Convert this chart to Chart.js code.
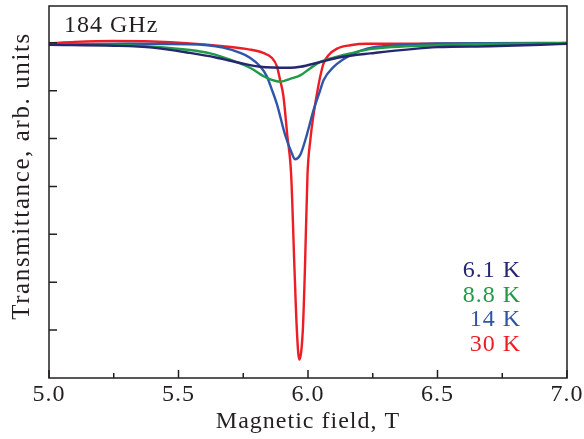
<!DOCTYPE html>
<html>
<head>
<meta charset="utf-8">
<script src="https://cdn.jsdelivr.net/npm/chart.js@4/dist/chart.umd.min.js"></script>
<style>
  html, body { margin: 0; padding: 0; background: #ffffff; }
  #c { display: block; }
</style>
</head>
<body>
<canvas id="c" width="584" height="439"></canvas>
<script>
// Axis ticks
const fieldTicks = [5.0, 5.5, 6.0, 6.5, 7.0];
const fieldMinorTicks = [5.25, 5.75, 6.25, 6.75];
const transTicks = [1, 2, 3, 4, 5, 6, 7];

// Series: temperature labels and colours
const seriesLabels = ['6.1 K', '8.8 K', '14 K', '30 K'];
const seriesColors = ['#26276f', '#1f9a48', '#2f55a8', '#ee1d25'];

// 6.1 K
const field61 = [5.00, 5.25, 5.40, 5.544, 5.648, 5.738, 5.815, 5.931, 5.970, 6.047, 6.124, 6.24, 6.50, 6.70, 6.90, 7.00];
const trans61 = [6.96, 6.94, 6.90, 6.79, 6.69, 6.58, 6.50, 6.48, 6.50, 6.60, 6.70, 6.78, 6.91, 6.93, 6.96, 6.98];

// 8.8 K
const field88 = [5.00, 5.25, 5.40, 5.544, 5.622, 5.699, 5.776, 5.841, 5.895, 5.931, 5.970, 6.009, 6.047, 6.105, 6.163, 6.24, 6.50, 7.00];
const trans88 = [6.97, 6.96, 6.92, 6.85, 6.78, 6.65, 6.48, 6.27, 6.19, 6.25, 6.32, 6.47, 6.60, 6.70, 6.78, 6.87, 6.95, 7.00];

// 14 K
const field14 = [5.00, 5.30, 5.544, 5.672, 5.738, 5.776, 5.815, 5.841, 5.860, 5.880, 5.912, 5.938, 5.949, 5.970, 5.996, 6.021, 6.047, 6.060, 6.099, 6.163, 6.228, 6.357, 6.50, 7.00];
const trans14 = [6.96, 6.98, 6.97, 6.90, 6.79, 6.69, 6.51, 6.30, 6.03, 5.72, 5.07, 4.69, 4.57, 4.66, 5.09, 5.59, 6.01, 6.22, 6.50, 6.74, 6.88, 6.95, 6.99, 7.00];

// 30 K
const field30 = [5.00, 5.10, 5.25, 5.40, 5.544, 5.672, 5.776, 5.827, 5.860, 5.880, 5.892, 5.905, 5.920, 5.935, 5.948, 5.957, 5.966, 5.980, 5.988, 5.998, 6.009, 6.024, 6.037, 6.047, 6.060, 6.079, 6.112, 6.163, 6.228, 6.50, 7.00];
const trans30 = [6.99, 7.02, 7.04, 7.03, 6.99, 6.93, 6.86, 6.79, 6.69, 6.51, 6.23, 5.89, 5.07, 4.24, 2.25, 1.00, 0.385, 1.00, 2.25, 4.24, 4.97, 5.59, 6.01, 6.29, 6.57, 6.74, 6.88, 6.95, 6.98, 6.98, 6.98];

const fieldSets = [field61, field88, field14, field30];
const transSets = [trans61, trans88, trans14, trans30];

const INK = '#231f20';
const SERIF = "'Liberation Serif', 'Times New Roman', serif";
const FONT_SIZE = 24;
const LETTER_SPACING = '1px';
const Y_TITLE = 'Transmittance, arb. units';

const datasets = seriesLabels.map((label, i) => ({
  label,
  data: fieldSets[i].map((x, j) => ({ x, y: transSets[i][j] })),
  borderColor: seriesColors[i],
  backgroundColor: seriesColors[i],
  borderWidth: 2.4,
  pointRadius: 0,
  fill: false,
  cubicInterpolationMode: 'monotone'
}));

// Frame, inward ticks, axis title, frequency tag and temperature labels
const decorPlugin = {
  id: 'decor',
  beforeDraw(chart) {
    chart.ctx.letterSpacing = LETTER_SPACING;
  },
  afterDatasetsDraw(chart) {
    const { ctx, chartArea: a, scales: { x, y } } = chart;
    ctx.save();
    ctx.strokeStyle = INK;
    ctx.lineWidth = 1.5;
    ctx.strokeRect(a.left, a.top, a.right - a.left, a.bottom - a.top);
    ctx.beginPath();
    fieldTicks.forEach(v => {
      const px = x.getPixelForValue(v);
      ctx.moveTo(px, a.bottom); ctx.lineTo(px, a.bottom - 8);
    });
    fieldMinorTicks.forEach(v => {
      const px = x.getPixelForValue(v);
      ctx.moveTo(px, a.bottom); ctx.lineTo(px, a.bottom - 5);
    });
    transTicks.forEach(v => {
      const py = y.getPixelForValue(v);
      ctx.moveTo(a.left, py); ctx.lineTo(a.left + 8, py);
    });
    ctx.stroke();

    ctx.letterSpacing = LETTER_SPACING;
    ctx.font = FONT_SIZE + 'px ' + SERIF;
    ctx.fillStyle = INK;
    ctx.textAlign = 'left';
    ctx.textBaseline = 'alphabetic';
    ctx.fillText('184 GHz', a.left + 15, a.top + 26);

    ctx.textAlign = 'right';
    seriesLabels.forEach((label, i) => {
      ctx.fillStyle = seriesColors[i];
      ctx.fillText(label, 521, 277 + i * 24.5);
    });

    // vertical axis title
    ctx.save();
    ctx.translate(22, 176);
    ctx.rotate(-Math.PI / 2);
    ctx.letterSpacing = '1.6px';
    ctx.font = '25px ' + SERIF;
    ctx.fillStyle = INK;
    ctx.textAlign = 'center';
    ctx.textBaseline = 'middle';
    ctx.fillText(Y_TITLE, 0, 0);
    ctx.restore();

    ctx.restore();
  }
};

new Chart(document.getElementById('c'), {
  type: 'line',
  data: { datasets },
  options: {
    responsive: false,
    animation: false,
    devicePixelRatio: 1,
    layout: { padding: { top: 6, right: 17, left: 0, bottom: 0 } },
    plugins: { legend: { display: false }, tooltip: { enabled: false } },
    scales: {
      x: {
        type: 'linear',
        min: 5,
        max: 7,
        afterBuildTicks: s => { s.ticks = fieldTicks.map(v => ({ value: v })); },
        afterFit: s => { s.height = 61; },
        ticks: {
          callback: v => Number(v).toFixed(1),
          font: { family: SERIF, size: FONT_SIZE },
          color: INK,
          padding: 2,
          maxRotation: 0,
          autoSkip: false
        },
        grid: { display: false, drawTicks: false },
        border: { display: false },
        title: {
          display: true,
          text: 'Magnetic field, T',
          font: { family: SERIF, size: FONT_SIZE },
          color: INK,
          padding: { top: 0, bottom: 3 }
        }
      },
      y: {
        type: 'linear',
        min: 0,
        max: 7.77,
        afterBuildTicks: s => { s.ticks = transTicks.map(v => ({ value: v })); },
        afterFit: s => { s.width = 49; },
        ticks: { display: false },
        grid: { display: false, drawTicks: false },
        border: { display: false },
        title: { display: false }
      }
    }
  },
  plugins: [decorPlugin]
});
</script>
</body>
</html>
